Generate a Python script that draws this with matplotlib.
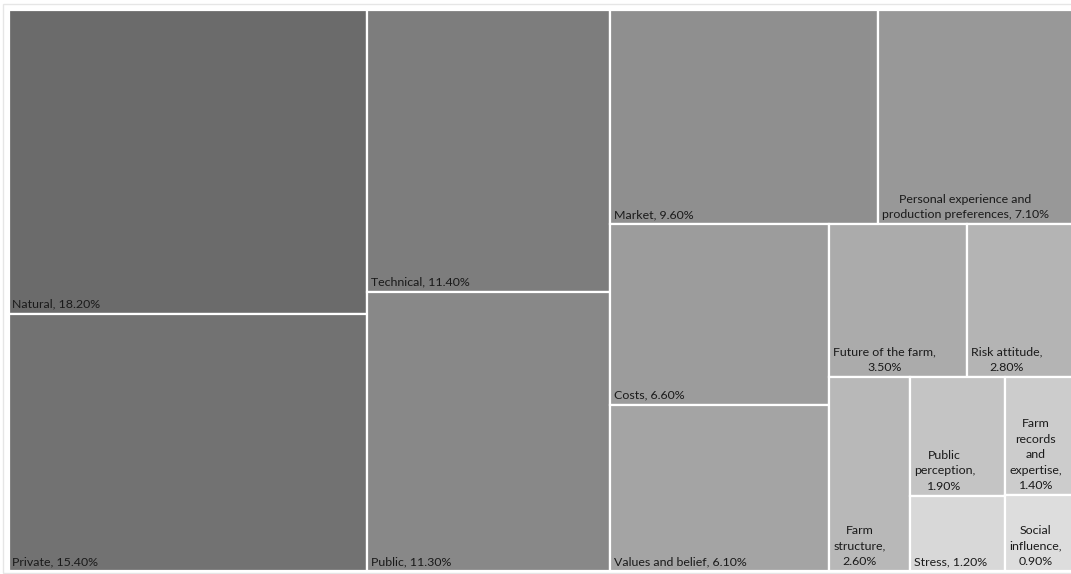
import matplotlib
matplotlib.use("Agg")
import matplotlib.pyplot as plt
from matplotlib.patches import Rectangle

# Share of each factor (percent)
categories = [
    "Natural", "Private", "Technical", "Public", "Market",
    "Personal experience and production preferences", "Costs",
    "Values and belief", "Future of the farm", "Risk attitude",
    "Farm structure", "Public perception", "Farm records and expertise",
    "Stress", "Social influence",
]
values = [18.2, 15.4, 11.4, 11.3, 9.6, 7.1, 6.6, 6.1, 3.5, 2.8, 2.6, 1.9, 1.4, 1.2, 0.9]
colors = [
    "#6b6b6b", "#727272", "#7d7d7d", "#888888", "#8f8f8f", "#989898",
    "#9c9c9c", "#a4a4a4", "#ababab", "#b4b4b4", "#b8b8b8", "#c4c4c4",
    "#cccccc", "#d8d8d8", "#dddddd",
]

# Slicing order of the treemap: "h" splits side by side, "v" stacks top to bottom
tree = ("h", [
    ("v", [0, 1]),
    ("v", [2, 3]),
    ("v", [
        ("h", [4, 5]),
        ("h", [
            ("v", [6, 7]),
            ("v", [
                ("h", [8, 9]),
                ("h", [10, ("v", [11, 13]), ("v", [12, 14])]),
            ]),
        ]),
    ]),
])


def total(node):
    if isinstance(node, int):
        return values[node]
    return sum(total(c) for c in node[1])


def layout(node, x, y, w, h, out):
    if isinstance(node, int):
        out[node] = (x, y, w, h)
        return
    direction, children = node
    s = total(node)
    pos = 0.0
    for c in children:
        frac = total(c) / s
        if direction == "h":
            layout(c, x + pos * w, y, w * frac, h, out)
        else:
            layout(c, x, y + pos * h, w, h * frac, out)
        pos += frac


W, H = 1068.0, 561.0
rects = {}
layout(tree, 0.0, 0.0, W, H, rects)

fig = plt.figure(figsize=(10.71, 5.74), dpi=100)
fig.patch.set_facecolor("white")
fig.patches.append(Rectangle((3 / 1071, 1.5 / 574), 1075 / 1071, 569 / 574,
                             transform=fig.transFigure, fill=False,
                             edgecolor="#e6e6e6", linewidth=1.0))
ax = fig.add_axes([8.5 / 1071, 3 / 574, W / 1071, H / 574])
ax.set_xlim(0, W)
ax.set_ylim(H, 0)
ax.axis("off")

FONT = "Lato"
FS = 8.9
PAD_X, PAD_Y = 4.0, 4.0

fig.canvas.draw()
renderer = fig.canvas.get_renderer()


def text_width(s):
    t = ax.text(0, 0, s, fontsize=FS, family=FONT)
    bb = t.get_window_extent(renderer=renderer)
    t.remove()
    return bb.width


def wrap(label, maxw):
    words = label.split(" ")
    lines = [words[0]]
    for wd in words[1:]:
        trial = lines[-1] + " " + wd
        if text_width(trial) <= maxw:
            lines[-1] = trial
        else:
            lines.append(wd)
    return "\n".join(lines)


for i, (name, v, col) in enumerate(zip(categories, values, colors)):
    x, y, w, h = rects[i]
    ax.add_patch(Rectangle((x, y), w, h, facecolor=col, edgecolor="white",
                           linewidth=1.6, clip_on=False))
    label = f"{name}, {v:.2f}%"
    txt = wrap(label, w - 2 * PAD_X)
    ax.text(x + PAD_X, y + h - PAD_Y, txt, ha="left", va="bottom",
            multialignment="center", fontsize=FS, family=FONT,
            color="#1a1a1a", linespacing=1.5)

fig.savefig("out.png", dpi=100, facecolor="white")
